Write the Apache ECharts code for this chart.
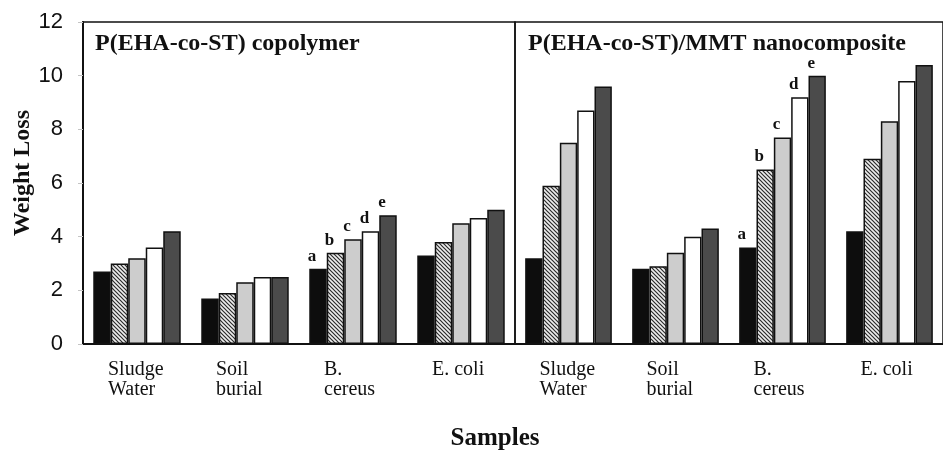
<!DOCTYPE html>
<html>
<head>
<meta charset="utf-8">
<title>Weight Loss by Sample</title>
<script src="https://cdn.jsdelivr.net/npm/echarts@6/dist/echarts.min.js"></script>
<style>
  html, body { margin: 0; padding: 0; background: #fff; }
  #chart { width: 943px; height: 450px; }
</style>
</head>
<body>
<div id="chart"></div>
<script>
// Degradation media on the category axis (same four in both panels)
const categories = ['Sludge\nWater', 'Soil\nburial', 'B.\ncereus', 'E. coli'];

// Weight loss, P(EHA-co-ST) copolymer, samples a..e
const copoA = [2.7, 1.7, 2.8, 3.3];
const copoB = [3.0, 1.9, 3.4, 3.8];
const copoC = [3.2, 2.3, 3.9, 4.5];
const copoD = [3.6, 2.5, 4.2, 4.7];
const copoE = [4.2, 2.5, 4.8, 5.0];

// Weight loss, P(EHA-co-ST)/MMT nanocomposite, samples a..e
const nanoA = [3.2, 2.8, 3.6, 4.2];
const nanoB = [5.9, 2.9, 6.5, 6.9];
const nanoC = [7.5, 3.4, 7.7, 8.3];
const nanoD = [8.7, 4.0, 9.2, 9.8];
const nanoE = [9.6, 4.3, 10.0, 10.4];

// Sample letters, written above one group per panel
const seriesLetters = ['a', 'b', 'c', 'd', 'e'];
const letteredCategory = 'B.\ncereus';

// Value axis ticks
const yMin = 0, yMax = 12, yStep = 2;

const panelTitles = ['P(EHA-co-ST) copolymer', 'P(EHA-co-ST)/MMT nanocomposite'];

// Diagonal hatch tile for the second bar of each group
function hatchTile() {
  const c = document.createElement('canvas');
  c.width = 4; c.height = 4;
  const g = c.getContext('2d');
  g.fillStyle = '#eeeeee';
  g.fillRect(0, 0, 4, 4);
  g.strokeStyle = '#2b2b2b';
  g.lineWidth = 1.2;
  g.beginPath();
  g.moveTo(-1, -1); g.lineTo(5, 5);
  g.moveTo(-1, 3); g.lineTo(1, 5);
  g.moveTo(3, -1); g.lineTo(5, 1);
  g.stroke();
  return c;
}

const fills = [
  '#0d0d0d',
  { image: hatchTile(), repeat: 'repeat' },
  '#cdcdcd',
  '#ffffff',
  '#4b4b4b'
];

const serif = 'Liberation Serif';

function barSeries(values, i, panel) {
  return {
    type: 'bar',
    name: seriesLetters[i],
    xAxisIndex: panel,
    yAxisIndex: panel,
    data: values,
    barGap: '0%',
    barCategoryGap: '19%',
    silent: true,
    itemStyle: { color: fills[i], borderColor: '#111', borderWidth: 1.5 },
    label: {
      show: true,
      position: 'top',
      distance: 4,
      offset: [-6, 0],
      formatter: p => (p.name === letteredCategory ? seriesLetters[i] : ''),
      fontFamily: serif,
      fontWeight: 'bold',
      fontSize: 17,
      color: '#111'
    }
  };
}

// Category labels: lines left-aligned inside a block centred on the band
const catAxis = panel => ({
  type: 'category',
  gridIndex: panel,
  data: categories,
  axisLine: { show: true, lineStyle: { color: '#111', width: 2 } },
  axisTick: { show: false },
  axisLabel: {
    interval: 0,
    margin: 16,
    align: 'center',
    formatter: v => v.split('\n').map(s => '{l|' + s + '}').join('\n'),
    rich: {
      l: {
        width: 58,
        align: 'left',
        fontFamily: serif,
        fontSize: 20,
        lineHeight: 20,
        color: '#111'
      }
    }
  }
});

const chart = echarts.init(document.getElementById('chart'), null, { renderer: 'canvas' });

chart.setOption({
  animation: false,
  backgroundColor: '#ffffff',
  title: [
    {
      text: panelTitles[0], left: 95, top: 32, padding: 0,
      textStyle: { fontFamily: serif, fontWeight: 'bold', fontSize: 24, color: '#111' }
    },
    {
      text: panelTitles[1], left: 528, top: 32, padding: 0,
      textStyle: { fontFamily: serif, fontWeight: 'bold', fontSize: 24, color: '#111' }
    }
  ],
  grid: [
    { left: 83, top: 22, width: 432, height: 322, show: true, borderColor: '#111', borderWidth: 1.5 },
    { left: 515, top: 22, width: 432, height: 322, show: true, borderColor: '#111', borderWidth: 1.5 }
  ],
  xAxis: [catAxis(0), catAxis(1)],
  yAxis: [
    {
      type: 'value',
      gridIndex: 0,
      min: yMin, max: yMax, interval: yStep,
      name: 'Weight Loss',
      nameLocation: 'middle',
      nameGap: 46,
      nameTextStyle: {
        fontFamily: serif, fontWeight: 'bold', fontSize: 24, color: '#111',
        padding: [0, 0, 0, 20]
      },
      axisLine: { show: true, lineStyle: { color: '#111', width: 2 } },
      axisTick: { show: true, length: 5, lineStyle: { color: '#c4c4c4' } },
      splitLine: { show: false },
      axisLabel: {
        margin: 20,
        fontFamily: 'Liberation Sans',
        fontSize: 22,
        color: '#111'
      }
    },
    {
      type: 'value',
      gridIndex: 1,
      min: yMin, max: yMax, interval: yStep,
      axisLine: { show: false },
      axisTick: { show: false },
      splitLine: { show: false },
      axisLabel: { show: false }
    }
  ],
  graphic: [
    {
      type: 'text',
      x: 495,
      y: 439,
      style: {
        text: 'Samples',
        fontFamily: serif,
        fontWeight: 'bold',
        fontSize: 25,
        fill: '#111',
        textAlign: 'center',
        textVerticalAlign: 'middle'
      }
    }
  ],
  series: [
    barSeries(copoA, 0, 0),
    barSeries(copoB, 1, 0),
    barSeries(copoC, 2, 0),
    barSeries(copoD, 3, 0),
    barSeries(copoE, 4, 0),
    barSeries(nanoA, 0, 1),
    barSeries(nanoB, 1, 1),
    barSeries(nanoC, 2, 1),
    barSeries(nanoD, 3, 1),
    barSeries(nanoE, 4, 1)
  ]
});
</script>
</body>
</html>
